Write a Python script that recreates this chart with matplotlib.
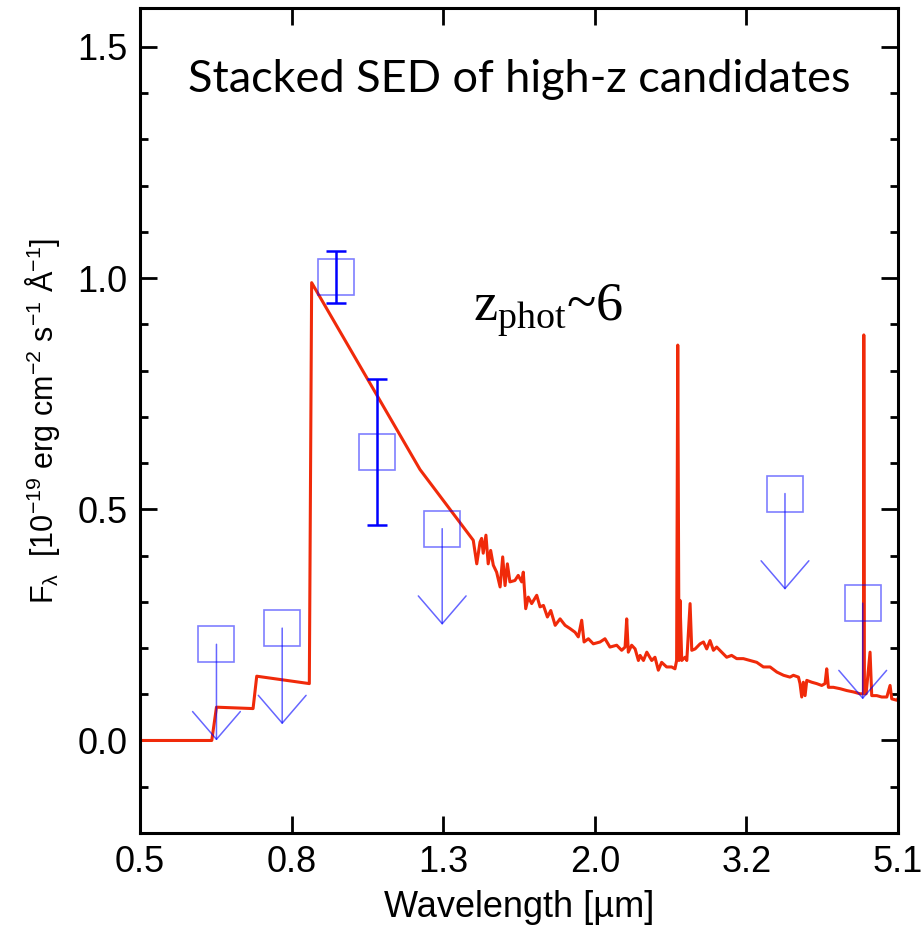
import numpy as np
import matplotlib
matplotlib.use('Agg')
import matplotlib.pyplot as plt
from matplotlib.ticker import FixedLocator, MultipleLocator, NullLocator, FormatStrFormatter

# best-fit template (wavelength in um, F_lambda in 1e-19 erg/cm2/s/A)
model_wave = [0.500, 0.623, 0.632, 0.707, 0.715, 0.840, 0.846, 1.179, 1.388,
              1.403, 1.417, 1.424, 1.431, 1.443, 1.453, 1.464, 1.476, 1.491, 1.507,
              1.519, 1.530, 1.541, 1.553, 1.577, 1.593, 1.610, 1.618, 1.630, 1.643,
              1.660, 1.686, 1.703, 1.721, 1.742, 1.760, 1.784, 1.811, 1.839, 1.867,
              1.896, 1.915, 1.935, 1.949, 1.975, 2.005, 2.047, 2.078, 2.110, 2.154,
              2.187, 2.210, 2.221, 2.232, 2.255, 2.279, 2.302, 2.314, 2.338, 2.362,
              2.398, 2.422, 2.447, 2.472, 2.510, 2.549, 2.575, 2.588, 2.597, 2.607,
              2.615, 2.629, 2.656, 2.670, 2.697, 2.711, 2.739, 2.781, 2.810, 2.838,
              2.867, 2.897, 2.926, 2.971, 3.017, 3.063, 3.111, 3.175, 3.241, 3.308,
              3.376, 3.446, 3.518, 3.591, 3.663, 3.701, 3.759, 3.777, 3.797, 3.816,
              3.836, 3.856, 3.915, 3.975, 4.037, 4.078, 4.099, 4.120, 4.183, 4.270,
              4.358, 4.448, 4.540, 4.587, 4.592, 4.601, 4.625, 4.681, 4.705, 4.778,
              4.852, 4.928, 4.977, 5.003, 5.081, 5.100]
model_flux = [0.000, 0.000, 0.072, 0.069, 0.139, 0.123, 0.990, 0.586, 0.433,
              0.382, 0.429, 0.437, 0.405, 0.444, 0.382, 0.411, 0.379, 0.364, 0.332,
              0.397, 0.335, 0.382, 0.343, 0.346, 0.357, 0.343, 0.364, 0.285, 0.310,
              0.296, 0.314, 0.289, 0.292, 0.267, 0.281, 0.249, 0.263, 0.249, 0.242,
              0.234, 0.224, 0.260, 0.213, 0.220, 0.209, 0.213, 0.220, 0.202, 0.206,
              0.195, 0.202, 0.263, 0.191, 0.206, 0.198, 0.173, 0.184, 0.173, 0.191,
              0.173, 0.180, 0.152, 0.169, 0.159, 0.159, 0.155, 0.173, 0.855, 0.173,
              0.303, 0.173, 0.180, 0.173, 0.296, 0.195, 0.198, 0.209, 0.213, 0.198,
              0.216, 0.195, 0.202, 0.191, 0.180, 0.184, 0.177, 0.177, 0.173, 0.169,
              0.159, 0.159, 0.148, 0.141, 0.137, 0.141, 0.137, 0.123, 0.094, 0.126,
              0.097, 0.130, 0.126, 0.123, 0.119, 0.123, 0.155, 0.115, 0.115, 0.112,
              0.108, 0.105, 0.101, 0.101, 0.877, 0.101, 0.101, 0.191, 0.097, 0.097,
              0.094, 0.094, 0.119, 0.090, 0.087, 0.091]

# photometric detections
det_wave = [0.912, 1.032]
det_flux = [1.003, 0.623]
det_err = [0.056, 0.158]

# upper limits
lim_wave = [0.632, 0.773, 1.262, 3.607, 4.577]
lim_flux = [0.208, 0.243, 0.458, 0.534, 0.297]

xtick_labels = ['0.5', '0.8', '1.3', '2.0', '3.2', '5.1']

ARROW_LEN = 0.208
RED = '#f02a0a'

plt.rcParams['font.family'] = ['Liberation Sans', 'DejaVu Sans']

fig = plt.figure(figsize=(9.24, 9.31), dpi=100)
ax = fig.add_axes([0.1515, 0.1053, 0.8204, 0.8861])

ax.plot(model_wave, model_flux, color=RED, lw=2.2, zorder=2)

ax.errorbar(det_wave, det_flux, yerr=det_err, fmt='none', ecolor='#0000ff',
            elinewidth=1.8, capsize=7.2, capthick=1.8, zorder=4)
ax.plot(det_wave + lim_wave, det_flux + lim_flux, 's', ms=26.6, mfc='none',
        mec=(0.0, 0.0, 1.0, 0.5), mew=1.2, zorder=3)
for x, y in zip(lim_wave, lim_flux):
    ax.annotate('', xy=(x, y - ARROW_LEN), xytext=(x, y),
                arrowprops=dict(arrowstyle='->,head_length=1.0,head_width=0.86',
                                color=(0.0, 0.0, 1.0, 0.6), lw=1.1,
                                shrinkA=0, shrinkB=0, mutation_scale=20),
                zorder=3)

ax.set_xscale('log')
ax.set_xlim(0.5, 5.1)
ax.set_ylim(-0.2, 1.584)
ax.xaxis.set_major_locator(FixedLocator(np.geomspace(0.5, 5.1, 6)))
ax.xaxis.set_minor_locator(NullLocator())
ax.set_xticklabels(xtick_labels)
ax.yaxis.set_major_locator(MultipleLocator(0.5))
ax.yaxis.set_minor_locator(MultipleLocator(0.1))
ax.yaxis.set_major_formatter(FormatStrFormatter('%.1f'))

ax.tick_params(which='both', direction='in', top=True, right=True, width=2.0,
               labelsize=26, pad=9, colors='black')
ax.tick_params(which='major', length=12)
ax.tick_params(which='minor', length=6)
for sp in ax.spines.values():
    sp.set_linewidth(2.2)

ax.set_xlabel('Wavelength [µm]', fontsize=26, labelpad=7)
ax.set_ylabel(r'F$_\mathregular{λ}$  [10$^\mathregular{-19}$ erg cm$^\mathregular{-2}$ '
              r's$^\mathregular{-1}$ Å$^\mathregular{-1}$]', fontsize=22, labelpad=11)

ax.text(0.5, 0.898, 'Stacked SED of high-z candidates', transform=ax.transAxes,
        ha='center', va='baseline', fontsize=32.5, family='Lato')
ax.text(0.4393, 0.6218, r'z$_\mathregular{phot}$~6', transform=ax.transAxes,
        ha='left', va='baseline', fontsize=39, family='Liberation Serif')

fig.savefig('out.png', dpi=100)
